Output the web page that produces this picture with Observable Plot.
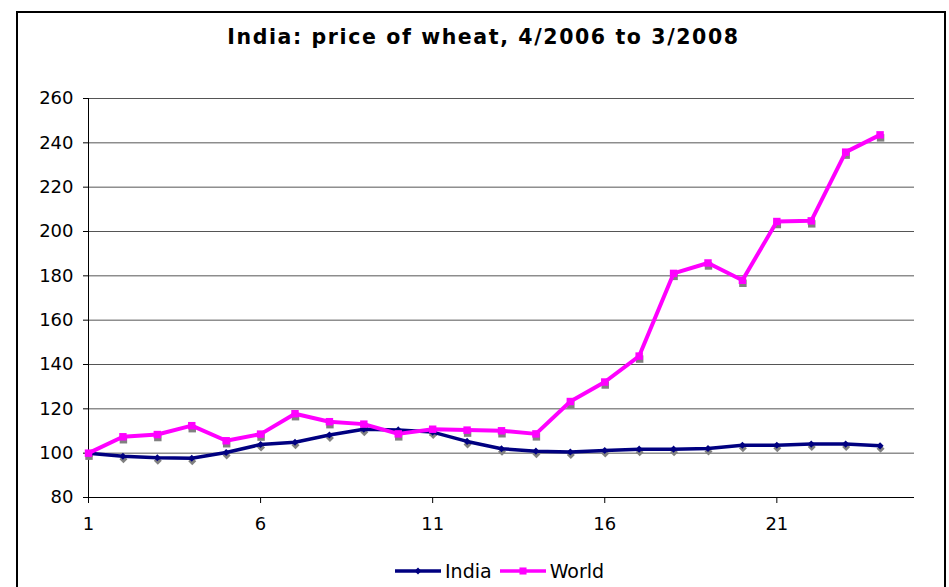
<!DOCTYPE html>
<html>
<head>
<meta charset="utf-8">
<script src="https://cdn.jsdelivr.net/npm/d3@7"></script>
<script src="https://cdn.jsdelivr.net/npm/@observablehq/plot@0.6"></script>
<style>
  html, body { margin: 0; padding: 0; background: #fff; }
  body { width: 949px; height: 587px; position: relative; overflow: hidden; font-family: "DejaVu Sans", Verdana, sans-serif; }
  #frame { position: absolute; left: 16px; top: 11px; width: 930px; height: 620px; border: 2px solid #000; box-sizing: border-box; }
  #title { position: absolute; left: 9px; width: 949px; top: 25px; text-align: center; font-size: 20.5px; font-weight: bold; letter-spacing: 1.6px; color: #000; }
  #chart { position: absolute; left: 0; top: 0; }
  #legend { position: absolute; left: 395px; top: 560px; display: flex; align-items: center; font-size: 19px; color: #000; }
  #legend .item { display: flex; align-items: center; margin-right: 8px; }
  #legend svg { margin-right: 4px; }
</style>
</head>
<body>
<div id="frame"></div>
<div id="title">India: price of wheat, 4/2006 to 3/2008</div>
<div id="chart"></div>
<div id="legend"></div>
<script>
const months = [1, 2, 3, 4, 5, 6, 7, 8, 9, 10, 11, 12, 13, 14, 15, 16, 17, 18, 19, 20, 21, 22, 23, 24];
const india = [100, 98.6, 97.9, 97.7, 100.3, 103.9, 104.9, 108.2, 110.8, 110.5, 109.5, 105.3, 102, 100.9, 100.5, 101.2, 101.8, 101.8, 102.1, 103.6, 103.6, 104.1, 104.1, 103.3];
const world = [100, 107.4, 108.4, 112.4, 105.6, 108.6, 117.8, 114.2, 113.1, 108.7, 110.8, 110.4, 110.1, 108.7, 123.3, 132.1, 143.8, 181.1, 185.8, 178, 204.5, 204.8, 235.8, 243.6];
const seriesNames = ["India", "World"];
const seriesColors = ["#000080", "#FF00FF"];
const xTicks = [1, 6, 11, 16, 21];
const yTicks = [80, 100, 120, 140, 160, 180, 200, 220, 240, 260];

const indiaData = months.map((m, i) => ({month: m, value: india[i]}));
const worldData = months.map((m, i) => ({month: m, value: world[i]}));

const chart = Plot.plot({
  width: 949,
  height: 540,
  marginLeft: 88,
  marginRight: 35,
  marginTop: 98,
  marginBottom: 43,
  style: {fontFamily: "DejaVu Sans, Verdana, sans-serif", fontSize: "18px", color: "#000", background: "transparent"},
  x: {domain: [1, 25]},
  y: {domain: [80, 260]},
  marks: [
    Plot.ruleY(yTicks.filter(d => d > 80), {x1: 1, x2: 25, stroke: "#555", strokeWidth: 1}),
    Plot.ruleY([80], {x1: 1, x2: 25, stroke: "#000", strokeWidth: 1}),
    Plot.ruleX([1], {y1: 80, y2: 260, stroke: "#000", strokeWidth: 1}),
    Plot.axisY({ticks: yTicks, tickSize: 5, tickPadding: 10, label: null, stroke: "#000"}),
    Plot.axisX({ticks: xTicks, tickSize: 6, tickPadding: 14, label: null, stroke: "#000", tickFormat: d => String(d)}),
    Plot.dot(indiaData, {x: "month", y: "value", symbol: "diamond2", r: 3.6, fill: "#808080", stroke: "none", dx: 0.5, dy: 3}),
    Plot.dot(worldData, {x: "month", y: "value", symbol: "square", r: 4.2, fill: "#808080", stroke: "none", dx: 0.5, dy: 3}),
    Plot.line(indiaData, {x: "month", y: "value", stroke: seriesColors[0], strokeWidth: 3.5}),
    Plot.dot(indiaData, {x: "month", y: "value", symbol: "diamond2", r: 3.2, fill: seriesColors[0], stroke: "none"}),
    Plot.line(worldData, {x: "month", y: "value", stroke: seriesColors[1], strokeWidth: 4}),
    Plot.dot(worldData, {x: "month", y: "value", symbol: "square", r: 4.2, fill: seriesColors[1], stroke: "none"})
  ]
});
document.getElementById("chart").appendChild(chart);

// Legend
const legend = document.getElementById("legend");
const symbols = [d3.symbolDiamond2, d3.symbolSquare];
const symSizes = [30, 50];
seriesNames.forEach((name, i) => {
  const item = document.createElement("div");
  item.className = "item";
  const svg = d3.create("svg").attr("width", 46).attr("height", 14);
  svg.append("line").attr("x1", 0).attr("x2", 46).attr("y1", 7).attr("y2", 7)
    .attr("stroke", seriesColors[i]).attr("stroke-width", 3.5);
  svg.append("path").attr("transform", "translate(23,7)")
    .attr("d", d3.symbol(symbols[i], symSizes[i])()).attr("fill", seriesColors[i]);
  item.appendChild(svg.node());
  const span = document.createElement("span");
  span.textContent = name;
  item.appendChild(span);
  legend.appendChild(item);
});
</script>
</body>
</html>
